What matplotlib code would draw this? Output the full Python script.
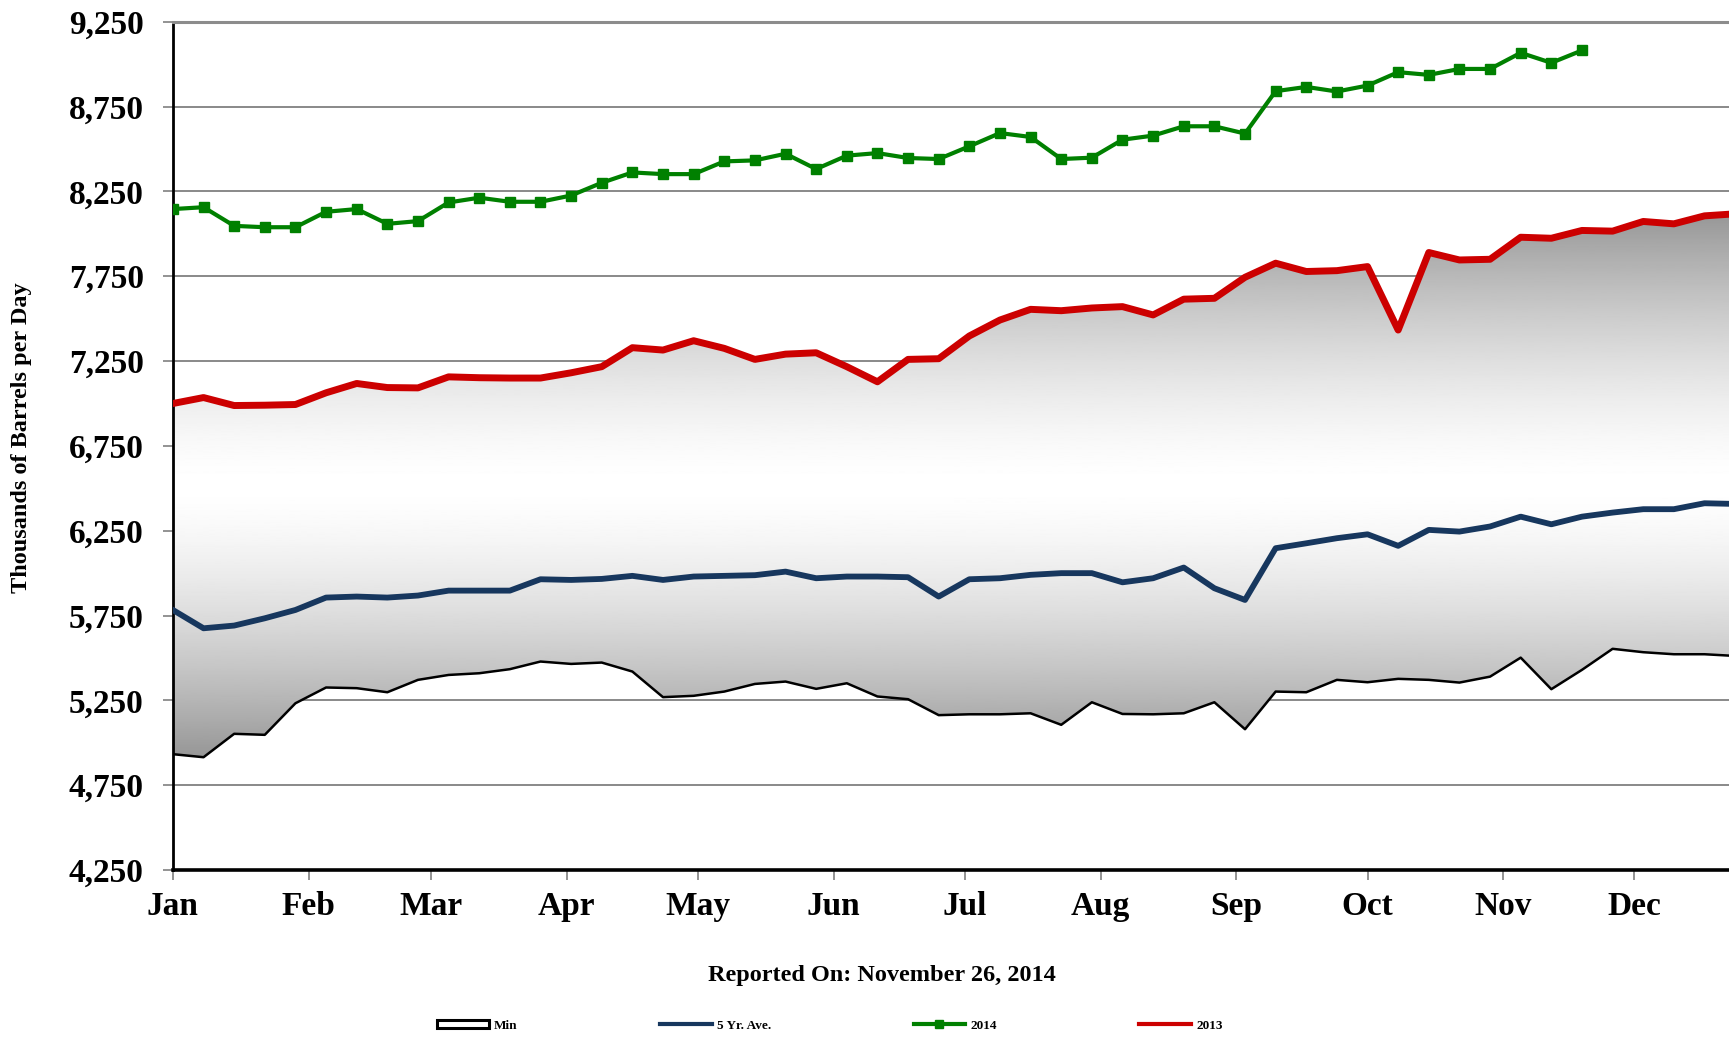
import numpy as np
import matplotlib
matplotlib.use("Agg")
import matplotlib.pyplot as plt
from matplotlib.lines import Line2D
from matplotlib.patches import Patch

plt.rcParams["font.family"] = ["Liberation Serif", "DejaVu Serif"]
plt.rcParams["font.weight"] = "bold"

# weekly values, thousands of barrels per day
min_vals = [4933, 4915, 5053, 5047, 5233, 5326, 5322, 5298, 5371, 5400, 5410, 5434, 5479, 5465, 5473,
            5420, 5269, 5277, 5302, 5347, 5361, 5318, 5351, 5273, 5257, 5163, 5168, 5168, 5174, 5106,
            5239, 5170, 5168, 5174, 5239, 5080, 5302, 5298, 5371, 5357, 5377, 5371, 5355, 5390, 5502,
            5316, 5430, 5554, 5534, 5522, 5522, 5512]
avg_5yr = [5783, 5675, 5691, 5734, 5783, 5856, 5862, 5856, 5868, 5897, 5897, 5897, 5964, 5960, 5966,
           5984, 5960, 5980, 5984, 5988, 6009, 5970, 5980, 5980, 5976, 5862, 5964, 5970, 5990, 6000,
           6000, 5946, 5970, 6033, 5911, 5842, 6147, 6176, 6206, 6229, 6161, 6255, 6245, 6275, 6333,
           6288, 6333, 6357, 6377, 6377, 6412, 6408]
y2014 = [8146, 8157, 8047, 8039, 8039, 8130, 8146, 8059, 8075, 8185, 8213, 8189, 8189, 8226, 8301,
         8362, 8352, 8352, 8427, 8433, 8472, 8382, 8461, 8476, 8447, 8441, 8516, 8594, 8571, 8441,
         8449, 8555, 8579, 8634, 8634, 8591, 8841, 8866, 8839, 8874, 8953, 8937, 8972, 8972, 9067,
         9008, 9081]
y2013 = [7000, 7035, 6988, 6990, 6994, 7063, 7118, 7094, 7092, 7157, 7152, 7150, 7150, 7181, 7217,
         7329, 7315, 7370, 7325, 7260, 7291, 7299, 7217, 7128, 7260, 7264, 7398, 7492, 7555, 7547,
         7563, 7571, 7522, 7615, 7620, 7744, 7827, 7778, 7783, 7807, 7433, 7890, 7846, 7850, 7980,
         7974, 8020, 8016, 8073, 8059, 8106, 8118]

months = ["Jan", "Feb", "Mar", "Apr", "May", "Jun", "Jul", "Aug", "Sep", "Oct", "Nov", "Dec"]
month_start_day = [0, 31, 59, 90, 120, 151, 181, 212, 243, 273, 304, 334]
y_ticks = [4250, 4750, 5250, 5750, 6250, 6750, 7250, 7750, 8250, 8750, 9250]

weeks = np.arange(len(min_vals))
weeks_2014 = np.arange(len(y2014))

fig = plt.figure(figsize=(17.29, 10.37), dpi=100)
ax = fig.add_axes([0.1, 0.161, 0.9, 0.818])

x_max = 50.8
y_min, y_max = 4250, 9250

# gradient band between min and max (2013)
band = ax.fill_between(weeks, min_vals, y2013, facecolor="none", edgecolor="none")
lo, hi = min(min_vals), max(y2013)
centre = (lo + hi) / 2.0
ys = np.linspace(y_min, y_max, 800)
t = np.clip(np.abs(ys - centre) / ((hi - lo) / 2.0), 0, 1)
shade = 1.0 - 0.41 * t ** 1.5
img = ax.imshow(shade[:, None], extent=[0, len(min_vals) - 1, y_min, y_max], origin="lower",
                aspect="auto", cmap="gray", vmin=0, vmax=1, zorder=1)
img.set_clip_path(band.get_paths()[0], transform=ax.transData)

ax.plot(weeks, min_vals, color="black", lw=1.8, zorder=3)
ax.plot(weeks, avg_5yr, color="#17375E", lw=4.2, zorder=4)
ax.plot(weeks, y2013, color="#CC0000", lw=5.0, zorder=5)
ax.plot(weeks_2014, y2014, color="#008000", lw=3.0, marker="s", markersize=7.5, zorder=6)

ax.set_xlim(0, x_max)
ax.set_ylim(y_min, y_max)

ax.set_yticks(y_ticks)
ax.set_yticklabels([f"{v:,}" for v in y_ticks], fontsize=24, fontweight="bold")
ax.set_xticks([d / 7.0 for d in month_start_day])
ax.set_xticklabels(months, fontsize=24, fontweight="bold")
ax.tick_params(axis="y", length=7, width=1.2, color="#808080", pad=14)
ax.tick_params(axis="x", length=7, width=1.2, color="#808080", pad=8)

ax.grid(axis="y", color="#808080", lw=1.3, zorder=0)
ax.set_axisbelow(True)
ax.spines["right"].set_visible(False)
ax.spines["top"].set_color("#8c8c8c")
ax.spines["top"].set_linewidth(2.2)
ax.spines["left"].set_linewidth(2.0)
ax.spines["bottom"].set_linewidth(2.6)

fig.text(0.0127, 0.578, "Thousands of Barrels per Day", rotation=90, ha="center",
         va="center", fontsize=17.5, fontweight="bold")
fig.text(0.51, 0.059, "Reported On: November 26, 2014", ha="center", va="center",
         fontsize=17.5, fontweight="bold")

handles = [
    Patch(facecolor="white", edgecolor="black", lw=2.2),
    Line2D([], [], color="#17375E", lw=3),
    Line2D([], [], color="#008000", lw=3, marker="s", markersize=6),
    Line2D([], [], color="#CC0000", lw=3),
]
labels = ["Min", "5 Yr. Ave.", "2014", "2013"]
fig.legend(handles, labels, loc="center", bbox_to_anchor=(0.48, 0.011), ncol=4,
           frameon=False, prop={"size": 9.5, "weight": "bold"},
           handlelength=3.9, handleheight=0.6, columnspacing=10.8, handletextpad=0.4)

fig.savefig("out.png", dpi=100)
